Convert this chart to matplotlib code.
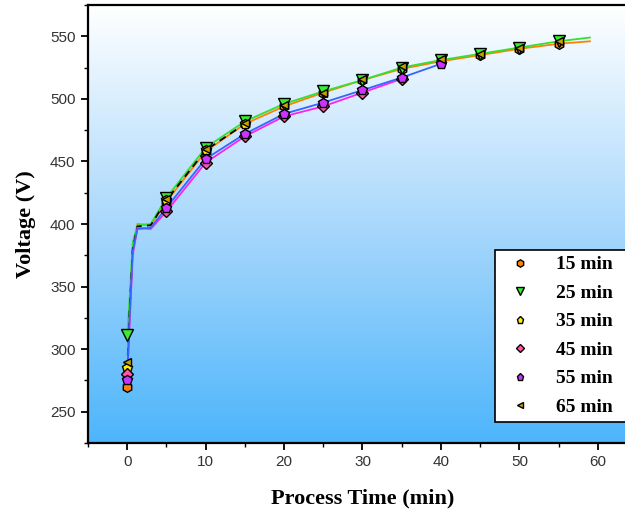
import matplotlib
matplotlib.use('Agg')
import matplotlib.pyplot as plt
import numpy as np
from matplotlib.colors import LinearSegmentedColormap

# series: (time, voltage)
labels = ['15 min', '25 min', '35 min', '45 min', '55 min', '65 min']

t15 = [0, 0.3, 0.7, 1.3, 3, 5, 10, 15, 20, 25, 30, 35, 40, 45, 50, 55, 59]
v15 = [270, 330, 380, 400, 399, 418, 458, 480, 494, 505, 515, 524, 530, 535, 540, 544, 546]
t25 = [0, 0.3, 0.7, 1.3, 3, 5, 10, 15, 20, 25, 30, 35, 40, 45, 50, 55, 59]
v25 = [311, 340, 385, 399, 400, 421, 461, 482, 496, 506, 515, 525, 531, 536, 541, 546, 549]
t35 = [0, 0.3, 0.7, 1.3, 3, 5, 10, 15]
v35 = [285, 330, 380, 398, 399, 419, 459, 480]
t45 = [0, 0.3, 0.7, 1.3, 3, 5, 10, 15, 20, 25, 30, 35]
v45 = [280, 320, 375, 397, 396, 410, 449, 470, 486, 494, 505, 516]
t55 = [0, 0.3, 0.7, 1.3, 3, 5, 10, 15, 20, 25, 30, 35, 40]
v55 = [275, 325, 378, 396, 397, 413, 452, 472, 488, 497, 507, 517, 528]
t65 = [0, 5, 10, 15, 20, 25, 30, 35, 40, 45, 50, 55]
v65 = [290, 420, 460, 481, 495, 505, 516, 526, 532, 536, 541, 546]

xticks = [0, 10, 20, 30, 40, 50, 60]
yticks = [250, 300, 350, 400, 450, 500, 550]

plt.rcParams['font.family'] = 'Liberation Sans'
fig = plt.figure(figsize=(6.25, 5.19), dpi=100)
ax = fig.add_axes([88/625, 1-443/519, 549/625, 438/519])
ax.set_xlim(-5, 65)
ax.set_ylim(225, 575)

# background gradient
cmap = LinearSegmentedColormap.from_list('bg', ['#4db5fb', '#a9d8fc', '#ffffff'])
grad = np.linspace(0, 1, 256).reshape(-1, 1)
ax.imshow(grad, cmap=cmap, aspect='auto', origin='lower',
          extent=[-5, 65, 225, 575], zorder=0)

line_style = [
    ('#ff8000', '-'), ('#33e033', '-'), ('black', (0, (4, 3))),
    ('#ff22ee', '-'), ('#3366ff', '-'), (None, None),
]
markers = [
    ('h', '#ff7f0e'), ('v', '#33ee33'), ('p', '#ffee00'),
    ('D', '#ff55aa'), ('p', '#cc33ff'), ('<', '#c8a000'),
]
series = [(t15, v15), (t25, v25), (t35, v35), (t45, v45), (t55, v55), (t65, v65)]

for (t, v), (lc, ls), (m, mc), lab in zip(series, line_style, markers, labels):
    t = np.array(t)
    v = np.array(v)
    if lc is not None:
        ax.plot(t, v, color=lc, linestyle=ls, lw=1.3, zorder=2)
    mask = (t % 5 == 0) & (t <= 55)
    ax.plot(t[mask], v[mask], linestyle='none', marker=m,
            ms={'v': 8, 'D': 6, '<': 6}.get(m, 7),
            mfc=mc, mec='black', mew=1.0, zorder=3, label=lab)

ax.set_xticks(xticks)
ax.set_yticks(yticks)
ax.set_xticks(np.arange(-5, 66, 5), minor=True)
ax.set_yticks(np.arange(225, 576, 25), minor=True)
ax.tick_params(which='major', direction='out', length=5, width=1.3, labelsize=11,
               labelcolor='#333333', pad=4)
ax.tick_params(which='minor', direction='out', length=3, width=1.0)
for s in ax.spines.values():
    s.set_linewidth(1.6)

ax.set_xlabel('Process Time (min)', family='Liberation Serif', fontweight='bold',
              fontsize=16, labelpad=14)
ax.set_ylabel('Voltage (V)', family='Liberation Serif', fontweight='bold',
              fontsize=16, labelpad=10)

leg = ax.legend(loc='upper left', bbox_to_anchor=(0.741, 0.0, 0.30, 0.4406),
                mode='expand', borderaxespad=0,
                prop={'family': 'Liberation Serif', 'weight': 'bold', 'size': 14},
                frameon=True, fancybox=False, edgecolor='black', framealpha=1,
                labelspacing=0.56, handlelength=2.0, handletextpad=0.85, borderpad=0.3,
                markerscale=0.75)
leg.get_frame().set_linewidth(1.2)

fig.savefig('out.png', dpi=100)
